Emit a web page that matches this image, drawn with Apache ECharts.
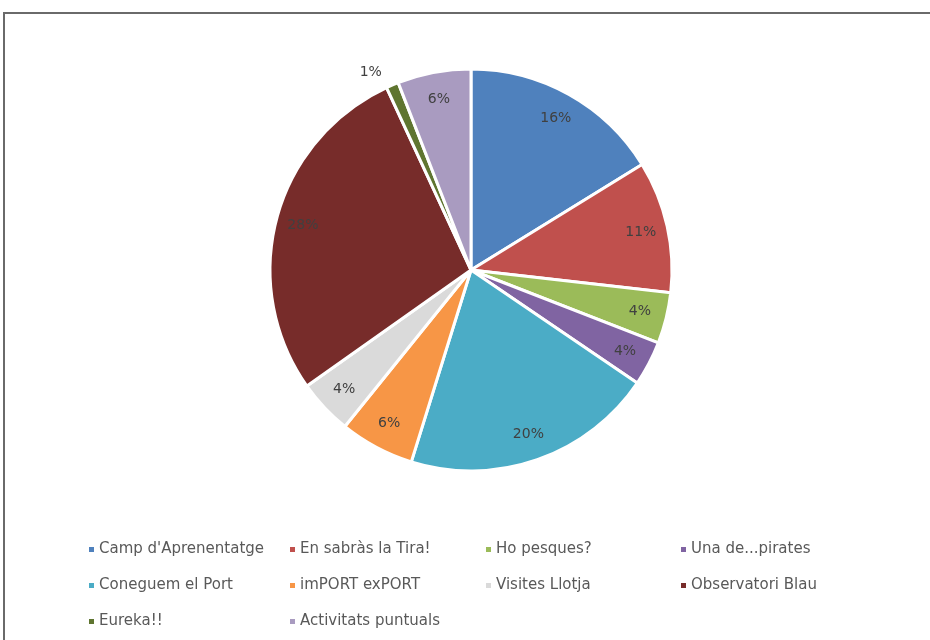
<!DOCTYPE html>
<html><head><meta charset="utf-8">
<script src="https://cdn.jsdelivr.net/npm/echarts@6/dist/echarts.min.js"></script>
<style>html,body{margin:0;padding:0;background:#fff}#c{width:930px;height:640px}</style>
</head><body><div id="c"></div>
<script>
const categories = ["Camp d'Aprenentatge","En sabràs la Tira!","Ho pesques?","Una de...pirates","Coneguem el Port","imPORT exPORT","Visites Llotja","Observatori Blau","Eureka!!","Activitats puntuals"];
const values = [16.2, 10.6, 4.1, 3.6, 20.3, 6.0, 4.4, 27.9, 1.0, 5.9];
const colors = ['#4F81BD','#C0504D','#9BBB59','#8064A2','#4BACC6','#F79646','#DADADA','#772C2A','#5F7530','#A99BC0'];
const legendCols = [
  ["Camp d'Aprenentatge","Coneguem el Port","Eureka!!"],
  ["En sabràs la Tira!","imPORT exPORT","Activitats puntuals"],
  ["Ho pesques?","Visites Llotja"],
  ["Una de...pirates","Observatori Blau"]
];
const legendLeft = [82, 283, 479, 674];
const FONT = 'DejaVu Sans';
const chart = echarts.init(document.getElementById('c'));
const data = categories.map((n,i)=>({name:n, value:values[i], itemStyle:{color:colors[i]}}));
const labelData = categories.map((n,i)=>{
  const d = {name:n, value:values[i]};
  if (n === 'Eureka!!') d.label = {position:'outside'};
  return d;
});
chart.setOption({
  animation:false,
  backgroundColor:'#fff',
  graphic:[{type:'rect', shape:{x:4, y:13, width:960, height:660}, style:{fill:'none', stroke:'#6a6a6a', lineWidth:2}, silent:true}],
  legend: legendCols.map((col,i)=>({
    data: col, orient:'vertical', left: legendLeft[i], top: 537,
    itemWidth:7, itemHeight:7, itemGap:21, icon:'rect',
    textStyle:{color:'#595959', fontSize:15, fontFamily:FONT, padding:[0,0,0,-1]}
  })),
  series:[
    {type:'pie', center:[471,270], radius:[0,201], startAngle:90, clockwise:true,
     data:data, label:{show:false}, labelLine:{show:false},
     itemStyle:{borderColor:'#fff', borderWidth:3}, silent:true},
    {type:'pie', center:[471,270], radius:[141,201], startAngle:90, clockwise:true,
     data:labelData, silent:true, legendHoverLink:false,
     itemStyle:{color:'rgba(0,0,0,0)'},
     label:{show:true, position:'inside', color:'#404040', fontSize:14, fontFamily:FONT,
       formatter:p=>Math.round(p.percent)+'%'},
     labelLine:{show:false, length:14, length2:0}}
  ]
});
</script></body></html>
